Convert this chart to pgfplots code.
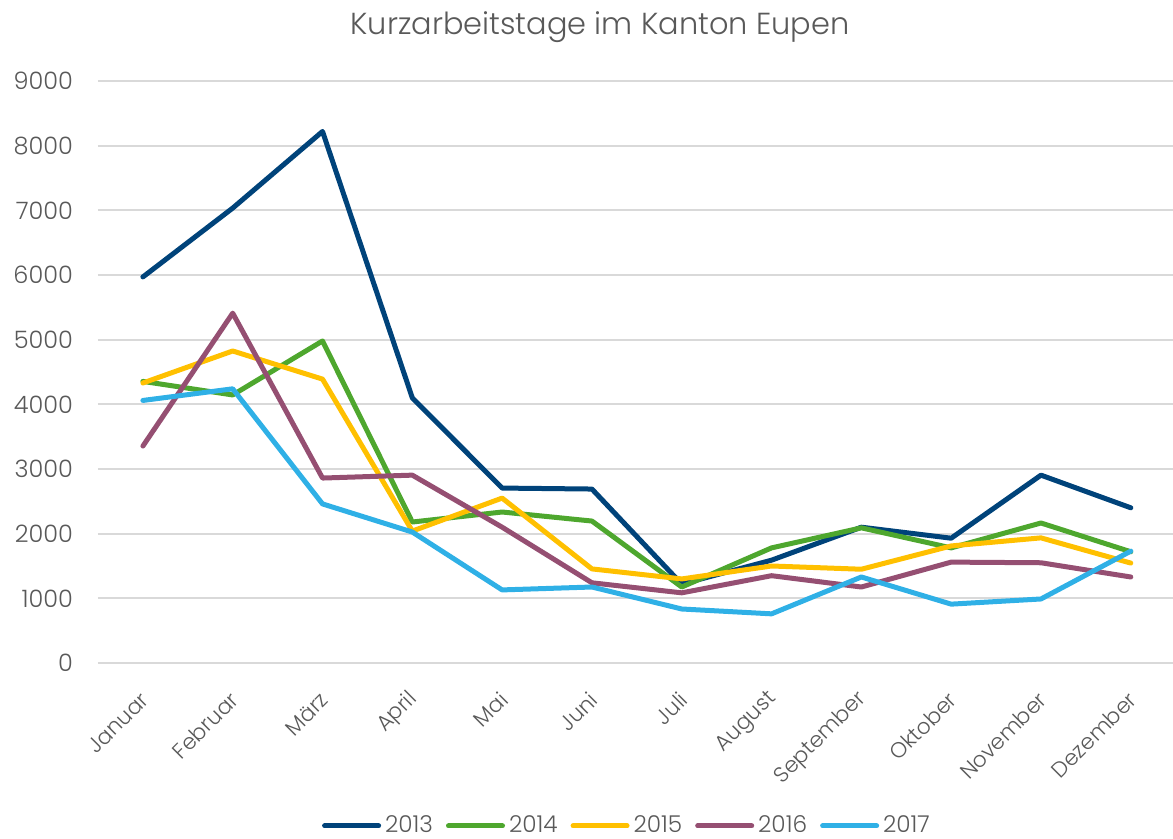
\documentclass[border=0pt]{standalone}
\usepackage{pgfplots}
\pgfplotsset{compat=1.18}
\usepackage{fontspec}
\setmainfont{Poppins}[UprightFont=* Light]
\definecolor{c13}{HTML}{00437A}
\definecolor{c14}{HTML}{4EA72E}
\definecolor{c15}{HTML}{FFC000}
\definecolor{c16}{HTML}{954F72}
\definecolor{c17}{HTML}{2FB0E6}
\definecolor{txt}{HTML}{595959}
\definecolor{grd}{HTML}{D9D9D9}
\begin{document}
\begin{tikzpicture}
\useasboundingbox (0,0) rectangle (586.5pt,419.5pt);
\node[text=txt,font=\fontsize{15.2}{17}\selectfont] at (300pt,406pt) {Kurzarbeitstage im Kanton Eupen};
\begin{axis}[
  at={(49pt,88pt)}, anchor=south west,
  scale only axis, width=537.5pt, height=291pt,
  xmin=-0.5, xmax=11.47, ymin=0, ymax=9000,
  ytick={0,1000,...,9000},
  xtick={0,...,11},
  xticklabels={Januar,Februar,März,April,Mai,Juni,Juli,August,September,Oktober,November,Dezember},
  axis line style={draw=none},
  major tick length=0,
  ymajorgrids, major grid style={grd, line width=1pt},
  /pgf/number format/1000 sep={},
  /pgf/number format/assume math mode=true,
  ticklabel style={text=txt, font=\fontsize{10.8}{12}\selectfont},
  yticklabel style={font=\fontsize{12}{13}\selectfont, xshift=-9pt},
  xticklabel style={xshift=1pt, yshift=-16.5pt, rotate=45, anchor=east, inner sep=0pt},
  every axis plot/.append style={line width=2.5pt, line join=round, line cap=round, mark=none},
  legend columns=5,
  legend style={at={(0.493,-0.28)}, anchor=center, draw=none, fill=none,
    font=\fontsize{11.6}{13}\selectfont, text=txt,
    nodes={inner sep=2pt},
    /tikz/every odd column/.append style={column sep=0pt},
    /tikz/every even column/.append style={column sep=4.5pt}},
  legend image code/.code={\draw[#1, line width=2.5pt, line cap=round] (0pt,0pt) -- (27pt,0pt);},
]
\addplot[c13] coordinates {(0,5970)(1,7035)(2,8220)(3,4100)(4,2705)(5,2690)(6,1220)(7,1590)(8,2100)(9,1930)(10,2905)(11,2400)};
\addplot[c14] coordinates {(0,4355)(1,4145)(2,4980)(3,2180)(4,2335)(5,2195)(6,1175)(7,1780)(8,2090)(9,1780)(10,2165)(11,1720)};
\addplot[c15] coordinates {(0,4330)(1,4825)(2,4390)(3,2040)(4,2550)(5,1455)(6,1300)(7,1500)(8,1450)(9,1810)(10,1935)(11,1545)};
\addplot[c16] coordinates {(0,3355)(1,5410)(2,2860)(3,2905)(4,2100)(5,1240)(6,1085)(7,1350)(8,1175)(9,1560)(10,1550)(11,1330)};
\addplot[c17] coordinates {(0,4060)(1,4240)(2,2460)(3,2025)(4,1130)(5,1175)(6,835)(7,760)(8,1330)(9,910)(10,990)(11,1730)};
\legend{2013,2014,2015,2016,2017}
\end{axis}
\end{tikzpicture}
\end{document}
